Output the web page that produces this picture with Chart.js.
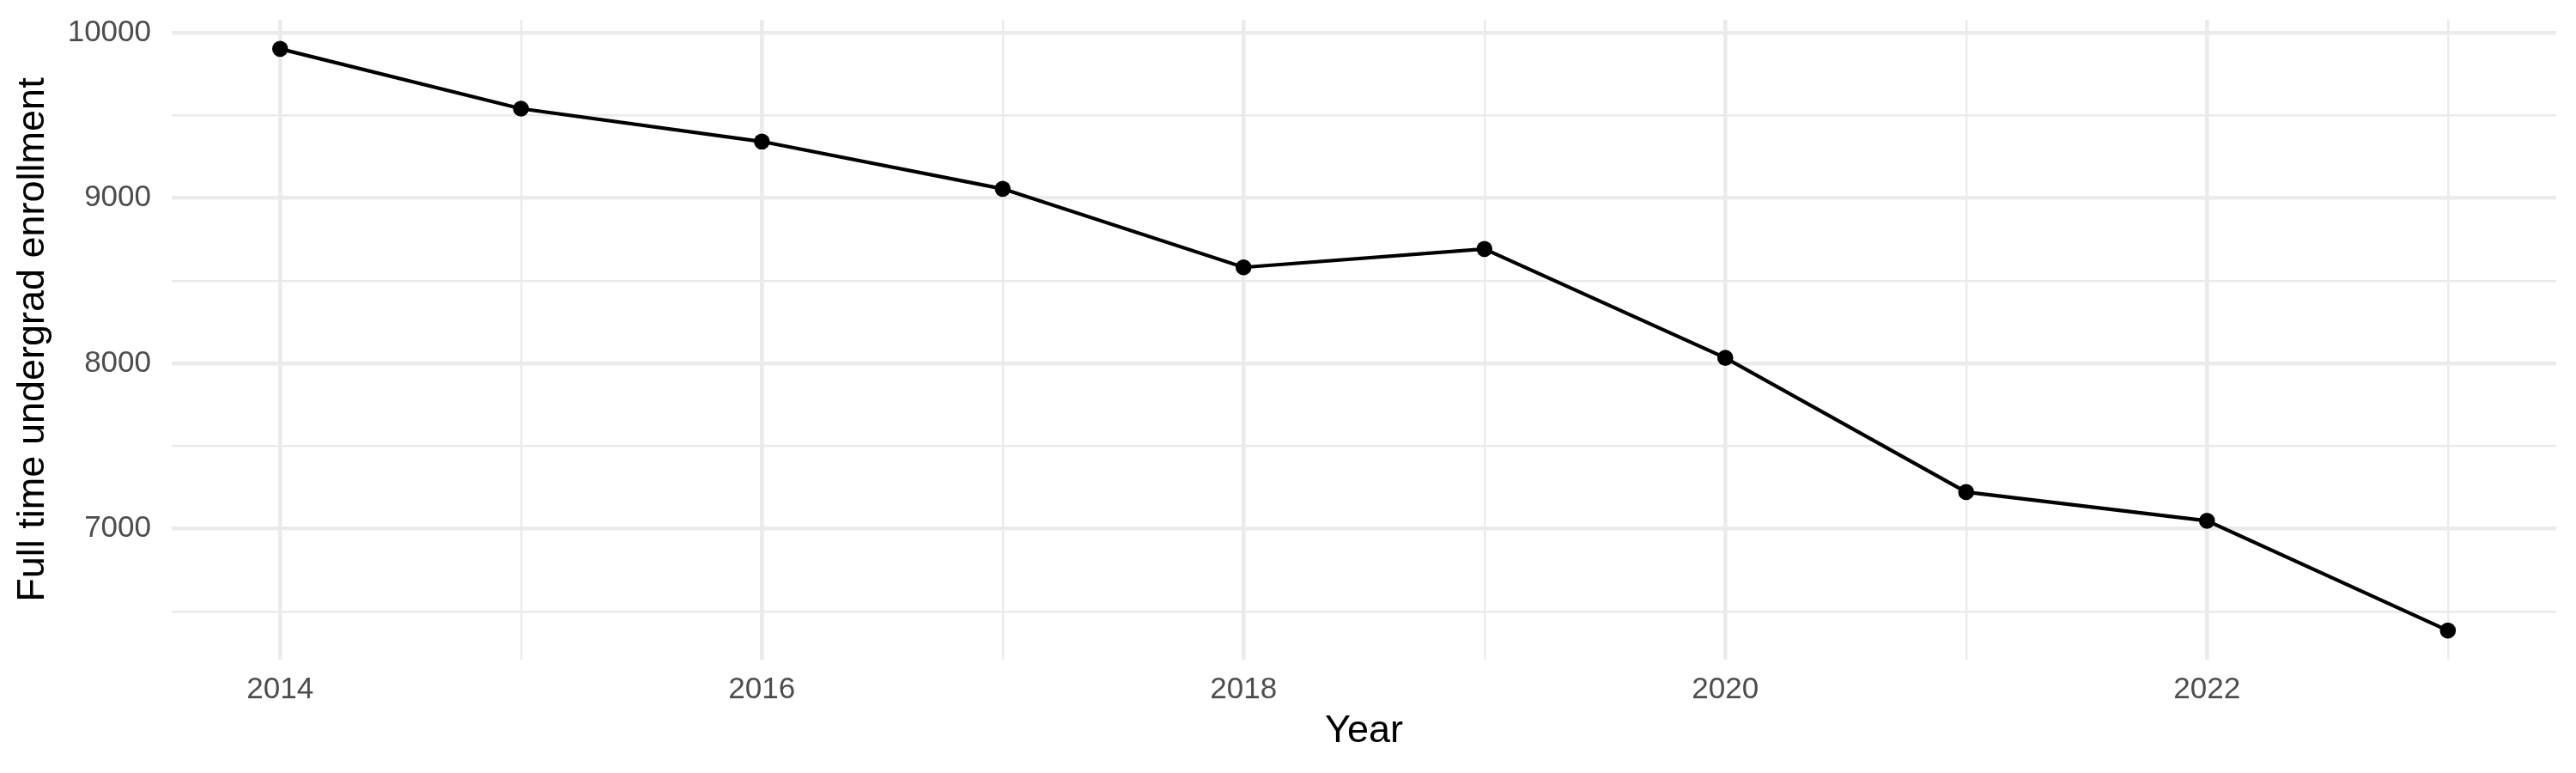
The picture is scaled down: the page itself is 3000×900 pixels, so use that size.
<!DOCTYPE html>
<html>
<head>
<meta charset="utf-8">
<script src="https://cdn.jsdelivr.net/npm/chart.js@4/dist/chart.umd.min.js"></script>
<style>
  html, body { margin: 0; padding: 0; background: #ffffff; }
  #wrap { width: 3000px; height: 900px; }
</style>
</head>
<body>
<div id="wrap"><canvas id="c" width="3000" height="900"></canvas></div>
<script>
// ---- data ----
const years = [2014, 2015, 2016, 2017, 2018, 2019, 2020, 2021, 2022, 2023];
const enrollment = [9904, 9542, 9343, 9057, 8582, 8693, 8034, 7222, 7048, 6384];

// ---- axis ticks ----
const xGridValues = [2014, 2015, 2016, 2017, 2018, 2019, 2020, 2021, 2022, 2023];
const xLabelValues = [2014, 2016, 2018, 2020, 2022];
const yGridValues = [6500, 7000, 7500, 8000, 8500, 9000, 9500, 10000];
const yLabelValues = [7000, 8000, 9000, 10000];

const xTitle = 'Year';
const yTitle = 'Full time undergrad enrollment';

// ggplot-style 5% expansion
const xSpan = Math.max(...years) - Math.min(...years);
const ySpan = Math.max(...enrollment) - Math.min(...enrollment);
const xMin = Math.min(...years) - 0.05 * xSpan;
const xMax = Math.max(...years) + 0.05 * xSpan;
const yMin = Math.min(...enrollment) - 0.05 * ySpan;
const yMax = Math.max(...enrollment) + 0.05 * ySpan;

const FONT = '"Liberation Sans", Arial, Helvetica, sans-serif';
const GRID = '#EBEBEB';

const points = years.map((y, i) => ({ x: y, y: enrollment[i] }));

new Chart(document.getElementById('c').getContext('2d'), {
  type: 'line',
  data: {
    datasets: [{
      data: points,
      borderColor: '#000000',
      backgroundColor: '#000000',
      borderWidth: 4.2,
      pointRadius: 9.3,
      pointHoverRadius: 9.3,
      pointBorderWidth: 0,
      pointBackgroundColor: '#000000',
      tension: 0,
      fill: false
    }]
  },
  options: {
    responsive: false,
    devicePixelRatio: 1,
    animation: false,
    events: [],
    layout: { padding: { left: 0, right: 23, top: 23, bottom: 0 } },
    plugins: { legend: { display: false }, tooltip: { enabled: false } },
    scales: {
      x: {
        type: 'linear',
        min: xMin,
        max: xMax,
        afterBuildTicks: (s) => { s.ticks = xGridValues.map(v => ({ value: v })); },
        afterFit: (s) => { s.height = 132; s.paddingLeft = 0; s.paddingRight = 0; },
        border: { display: false },
        grid: {
          color: GRID,
          drawTicks: false,
          lineWidth: (ctx) => (ctx.tick && xLabelValues.includes(ctx.tick.value)) ? 4.6 : 2.4
        },
        ticks: {
          padding: 14,
          maxRotation: 0,
          autoSkip: false,
          color: '#4D4D4D',
          font: { family: FONT, size: 35 },
          callback: (v) => xLabelValues.includes(v) ? String(v) : ''
        },
        title: {
          display: true,
          text: xTitle,
          color: '#000000',
          font: { family: FONT, size: 45 },
          padding: { top: 0, bottom: 21 }
        }
      },
      y: {
        type: 'linear',
        min: yMin,
        max: yMax,
        afterBuildTicks: (s) => { s.ticks = yGridValues.map(v => ({ value: v })); },
        afterFit: (s) => { s.width = 200; s.paddingTop = 0; s.paddingBottom = 0; },
        border: { display: false },
        grid: {
          color: GRID,
          drawTicks: false,
          lineWidth: (ctx) => (ctx.tick && yLabelValues.includes(ctx.tick.value)) ? 4.6 : 2.4
        },
        ticks: {
          padding: 24,
          autoSkip: false,
          color: '#4D4D4D',
          font: { family: FONT, size: 35 },
          callback: (v) => yLabelValues.includes(v) ? String(v) : ''
        },
        title: {
          display: true,
          text: yTitle,
          color: '#000000',
          font: { family: FONT, size: 45 },
          padding: { top: 12, bottom: 0 }
        }
      }
    }
  }
});
</script>
</body>
</html>
